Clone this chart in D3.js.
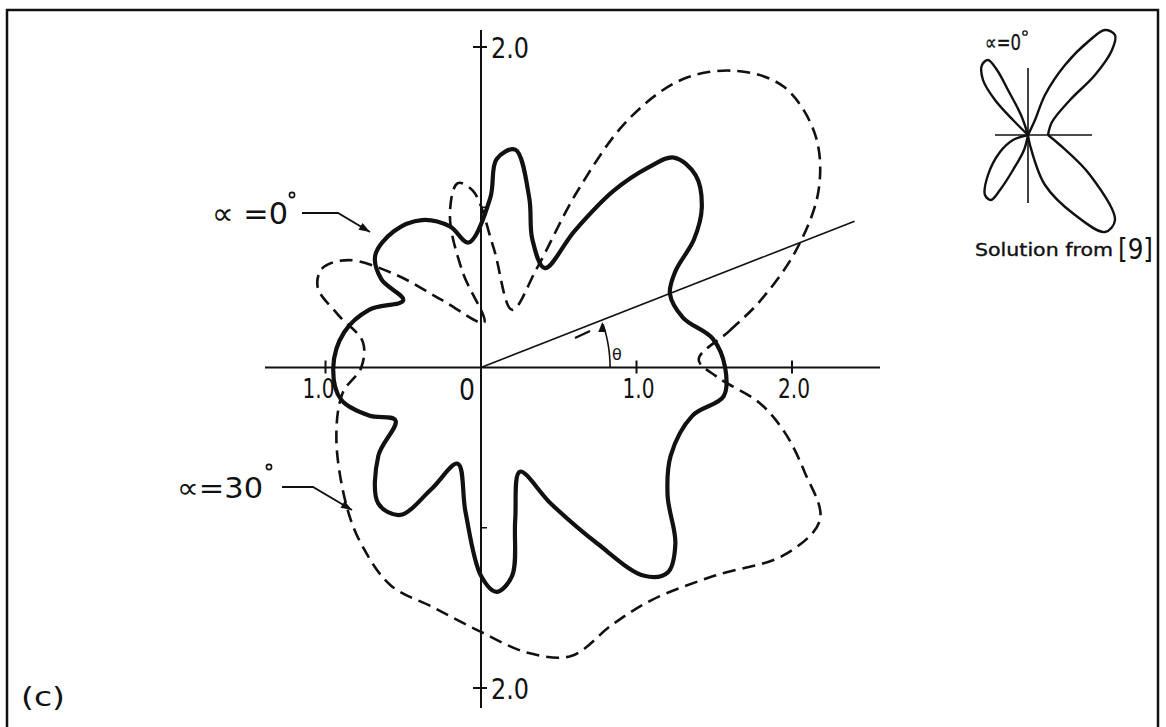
<!DOCTYPE html>
<html>
<head>
<meta charset="utf-8">
<script src="https://cdn.jsdelivr.net/npm/d3@7"></script>
<style>
  body { margin: 0; background: #fff; }
  svg { display: block; }
  text { font-family: "DejaVu Sans", sans-serif; fill: #111; }
</style>
</head>
<body>
<svg id="chart" width="1166" height="727"></svg>
<script>
// ---- axis ticks ----
const xTicks = [-1, 1, 2];
const xTickLabels = ["1.0", "1.0", "2.0"];
const yTicks = [2, -2];
const yTickLabels = ["2.0", "2.0"];
const yMinorTicks = [1, -1];

// ---- α = 0° curve, points (x, y) in plot units, counter-clockwise from θ = 0 ----
const alpha0 = [
  [1.57, 0.00], [1.49, 0.18], [1.30, 0.31], [1.215, 0.46], [1.25, 0.60],
  [1.37, 0.80], [1.42, 1.00], [1.38, 1.20], [1.24, 1.31], [1.08, 1.25],
  [0.85, 1.10], [0.60, 0.85], [0.41, 0.62], [0.33, 0.80], [0.31, 1.06],
  [0.22, 1.36], [0.10, 1.30], [0.06, 1.06], [-0.08, 0.78], [-0.20, 0.88],
  [-0.38, 0.92], [-0.56, 0.85], [-0.68, 0.70], [-0.64, 0.55], [-0.50, 0.42],
  [-0.72, 0.36], [-0.88, 0.22], [-0.95, 0.00], [-0.90, -0.20], [-0.72, -0.30],
  [-0.55, -0.33], [-0.66, -0.55], [-0.66, -0.85], [-0.52, -0.92], [-0.32, -0.76],
  [-0.15, -0.60], [-0.10, -0.90], [0.00, -1.30], [0.10, -1.40], [0.20, -1.30],
  [0.22, -0.95], [0.25, -0.65], [0.45, -0.85], [0.75, -1.10], [1.05, -1.30],
  [1.20, -1.28], [1.25, -1.10], [1.20, -0.80], [1.22, -0.55], [1.36, -0.30],
  [1.56, -0.18]
];

// ---- α = 30° curve ----
const alpha30 = [
  [1.40, 0.05], [1.60, 0.23], [1.79, 0.41], [2.02, 0.72], [2.17, 1.10],
  [2.15, 1.45], [1.95, 1.75], [1.65, 1.85], [1.30, 1.80], [0.95, 1.55],
  [0.62, 1.10], [0.36, 0.62], [0.20, 0.36], [0.08, 0.75], [-0.05, 1.10],
  [-0.15, 1.15], [-0.20, 0.95], [-0.12, 0.60], [0.02, 0.28], [-0.25, 0.42],
  [-0.55, 0.58], [-0.85, 0.67], [-1.02, 0.62], [-1.05, 0.50], [-0.92, 0.33],
  [-0.76, 0.16], [-0.77, 0.00], [-0.89, -0.16], [-0.93, -0.45], [-0.86, -0.88],
  [-0.76, -1.12], [-0.58, -1.36], [-0.30, -1.50], [0.00, -1.65], [0.30, -1.78],
  [0.58, -1.80], [0.85, -1.60], [1.10, -1.45], [1.50, -1.30], [1.95, -1.17],
  [2.18, -0.95], [2.08, -0.65], [1.95, -0.40], [1.79, -0.22], [1.52, -0.06]
];

// ---- angle marker θ ----
const thetaLineAngle = 20.8;   // degrees
const thetaLineLength = 2.57;  // plot units
const thetaArcRadius = 0.83;

// ---- inset: solution from [9], four petals in inset units ----
const insetPetals = [
  [[0, 0], [0.14, 0.30], [0.34, 0.80], [0.74, 1.40], [1.24, 1.90], [1.54, 2.10],
   [1.74, 2.00], [1.68, 1.70], [1.34, 1.20], [0.84, 0.70], [0.48, 0.26], [0.40, 0]],
  [[0, 0], [-0.30, 0.30], [-0.66, 0.70], [-0.90, 1.10], [-0.92, 1.40], [-0.80, 1.50],
   [-0.62, 1.30], [-0.40, 0.90], [-0.14, 0.40], [0, 0]],
  [[0, 0], [-0.30, -0.10], [-0.56, -0.34], [-0.80, -0.80], [-0.86, -1.20], [-0.74, -1.30],
   [-0.56, -1.10], [-0.30, -0.70], [-0.08, -0.30], [0, 0]],
  [[0, 0], [0.04, -0.20], [0.34, -1.00], [0.94, -1.60], [1.54, -1.94], [1.74, -1.70],
   [1.24, -0.80], [0.64, -0.20], [0.40, 0]]
];

const svg = d3.select("#chart");
const ink = "#111";

// plot scales
const x = d3.scaleLinear().domain([0, 2]).range([481, 792]);
const y = d3.scaleLinear().domain([-2, 2]).range([688, 47]);

// frame
svg.append("path")
  .attr("d", "M7,760 L7,10 L1158,10 L1158,760")
  .attr("fill", "none").attr("stroke", ink).attr("stroke-width", 2.5);

// axes
svg.append("line").attr("x1", 265).attr("x2", 880).attr("y1", y(0)).attr("y2", y(0))
  .attr("stroke", ink).attr("stroke-width", 2);
svg.append("line").attr("x1", x(0)).attr("x2", x(0)).attr("y1", 30).attr("y2", 708)
  .attr("stroke", ink).attr("stroke-width", 2);

// x ticks and labels
svg.selectAll(".xt").data(xTicks).join("line")
  .attr("x1", d => x(d)).attr("x2", d => x(d))
  .attr("y1", y(0) - 7).attr("y2", y(0) + 6)
  .attr("stroke", ink).attr("stroke-width", 2);
svg.selectAll(".xl").data(xTicks).join("text")
  .attr("x", d => x(d) + (d < 0 ? -7 : 2)).attr("y", y(0) + 30)
  .attr("text-anchor", "middle").attr("font-size", 27)
  .attr("textLength", 32).attr("lengthAdjust", "spacingAndGlyphs")
  .text((d, i) => xTickLabels[i]);
svg.append("text").attr("x", x(0) - 14).attr("y", y(0) + 32)
  .attr("text-anchor", "middle").attr("font-size", 30)
  .attr("textLength", 16).attr("lengthAdjust", "spacingAndGlyphs").text("0");

// y ticks and labels
svg.selectAll(".yt").data(yTicks).join("line")
  .attr("x1", x(0) - 8).attr("x2", x(0) + 6)
  .attr("y1", d => y(d)).attr("y2", d => y(d))
  .attr("stroke", ink).attr("stroke-width", 2);
svg.selectAll(".ym").data(yMinorTicks).join("line")
  .attr("x1", x(0)).attr("x2", x(0) + 6)
  .attr("y1", d => y(d)).attr("y2", d => y(d))
  .attr("stroke", ink).attr("stroke-width", 1.5);
svg.selectAll(".yl").data(yTicks).join("text")
  .attr("x", x(0) + 10).attr("y", d => y(d) + 11)
  .attr("font-size", 29)
  .attr("textLength", 38).attr("lengthAdjust", "spacingAndGlyphs")
  .text((d, i) => yTickLabels[i]);

// curves
const curveLine = d3.line()
  .x(d => x(d[0])).y(d => y(d[1]))
  .curve(d3.curveCatmullRomClosed.alpha(0.5));

svg.append("path").attr("d", curveLine(alpha30))
  .attr("fill", "none").attr("stroke", ink).attr("stroke-width", 2.6)
  .attr("stroke-dasharray", "13,7");
svg.append("path").attr("d", curveLine(alpha0))
  .attr("fill", "none").attr("stroke", ink).attr("stroke-width", 4.2)
  .attr("stroke-linejoin", "round");

// θ reference line and arc
const rad = Math.PI / 180;
svg.append("line")
  .attr("x1", x(0)).attr("y1", y(0))
  .attr("x2", x(thetaLineLength * Math.cos(thetaLineAngle * rad)))
  .attr("y2", y(thetaLineLength * Math.sin(thetaLineAngle * rad)))
  .attr("stroke", ink).attr("stroke-width", 1.6);
const arcPts = d3.range(0, thetaLineAngle - 1.5, 0.5)
  .map(a => [thetaArcRadius * Math.cos(a * rad), thetaArcRadius * Math.sin(a * rad)]);
svg.append("path")
  .attr("d", d3.line().x(d => x(d[0])).y(d => y(d[1]))(arcPts))
  .attr("fill", "none").attr("stroke", ink).attr("stroke-width", 1.6);
const tip = [x(thetaArcRadius * Math.cos((thetaLineAngle - 0.8) * rad)),
             y(thetaArcRadius * Math.sin((thetaLineAngle - 0.8) * rad))];
svg.append("path")
  .attr("d", `M${tip[0]},${tip[1]} l-4,10 l8,0 z`)
  .attr("fill", ink);
svg.append("text").attr("x", 612).attr("y", 360).attr("font-size", 16).text("θ");
svg.append("line").attr("x1", 575).attr("y1", 338).attr("x2", 590).attr("y2", 331)
  .attr("stroke", ink).attr("stroke-width", 2.4);

// curve labels with leader arrows
function leader(pts) {
  svg.append("path").attr("d", d3.line()(pts))
    .attr("fill", "none").attr("stroke", ink).attr("stroke-width", 1.8);
  const [a, b] = pts.slice(-2);
  const ang = Math.atan2(b[1] - a[1], b[0] - a[0]) * 180 / Math.PI;
  svg.append("path").attr("d", "M0,0 L-11,-4 L-11,4 Z")
    .attr("transform", `translate(${b[0]},${b[1]}) rotate(${ang})`).attr("fill", ink);
}
svg.append("text").attr("x", 212).attr("y", 224).attr("font-size", 30)
  .attr("textLength", 76).attr("lengthAdjust", "spacingAndGlyphs").text("∝ =0");
svg.append("circle").attr("cx", 292).attr("cy", 195).attr("r", 2.6)
  .attr("fill", "none").attr("stroke", ink).attr("stroke-width", 1.6);
leader([[302, 213], [338, 213], [370, 232]]);

svg.append("text").attr("x", 177).attr("y", 498).attr("font-size", 29)
  .attr("textLength", 86).attr("lengthAdjust", "spacingAndGlyphs").text("∝=30");
svg.append("circle").attr("cx", 269).attr("cy", 467).attr("r", 2.6)
  .attr("fill", "none").attr("stroke", ink).attr("stroke-width", 1.6);
leader([[282, 487], [313, 487], [352, 510]]);

// panel tag
svg.append("text").attr("x", 21).attr("y", 706).attr("font-size", 27)
  .attr("textLength", 44).attr("lengthAdjust", "spacingAndGlyphs").text("(c)");

// inset
const ix = d3.scaleLinear().domain([0, 1]).range([1028, 1078]);
const iy = d3.scaleLinear().domain([0, 1]).range([135, 85]);
svg.append("line").attr("x1", 995).attr("x2", 1092).attr("y1", iy(0)).attr("y2", iy(0))
  .attr("stroke", ink).attr("stroke-width", 1.6);
svg.append("line").attr("x1", ix(0)).attr("x2", ix(0)).attr("y1", 68).attr("y2", 203)
  .attr("stroke", ink).attr("stroke-width", 1.6);
const petalLine = d3.line().x(d => ix(d[0])).y(d => iy(d[1])).curve(d3.curveCatmullRom.alpha(0.5));
svg.selectAll(".petal").data(insetPetals).join("path")
  .attr("d", petalLine)
  .attr("fill", "none").attr("stroke", ink).attr("stroke-width", 2.4);
svg.append("text").attr("x", 985).attr("y", 50).attr("font-size", 22)
  .attr("stroke", ink).attr("stroke-width", 0.3)
  .attr("textLength", 36).attr("lengthAdjust", "spacingAndGlyphs").text("∝=0");
svg.append("circle").attr("cx", 1025).attr("cy", 33).attr("r", 2.2)
  .attr("fill", "none").attr("stroke", ink).attr("stroke-width", 1.3);
svg.append("text").attr("x", 975).attr("y", 256).attr("font-size", 18)
  .attr("stroke", ink).attr("stroke-width", 0.4)
  .attr("textLength", 138).attr("lengthAdjust", "spacingAndGlyphs").text("Solution from");
svg.append("text").attr("x", 1118).attr("y", 259).attr("font-size", 29)
  .attr("textLength", 35).attr("lengthAdjust", "spacingAndGlyphs").text("[9]");
</script>
</body>
</html>
